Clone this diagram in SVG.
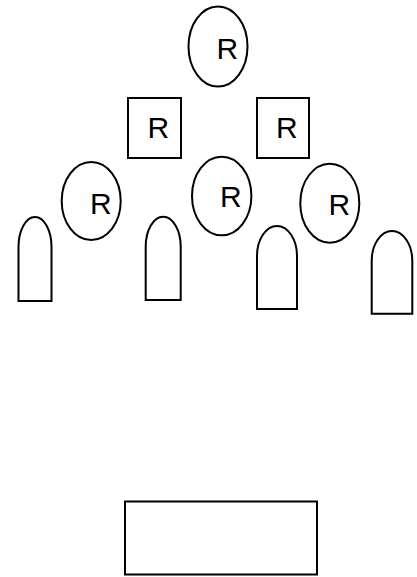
<svg xmlns="http://www.w3.org/2000/svg" width="417" height="577" viewBox="0 0 417 577">
<style>
.s{fill:none;stroke:#000;stroke-width:2}
.t{font-family:"Liberation Sans",Arial,sans-serif;font-size:30px;fill:#000}
</style>
<rect width="417" height="577" fill="#fff"/>
<g id="connectors"></g>
<g id="e1"><ellipse class="s" cx="218" cy="46.5" rx="29.5" ry="40"/><text class="t" x="216.5" y="59.3">R</text></g>
<g id="r1"><rect class="s" x="128" y="98" width="53" height="60"/><text class="t" x="147.5" y="137.7">R</text></g>
<g id="r2"><rect class="s" x="257" y="98" width="52" height="60"/><text class="t" x="276" y="137.7">R</text></g>
<g id="e2"><ellipse class="s" cx="91.2" cy="201" rx="29.5" ry="39"/><text class="t" x="90" y="214">R</text></g>
<g id="e3"><ellipse class="s" cx="221.7" cy="196" rx="29.7" ry="39.3"/><text class="t" x="220" y="207.3">R</text></g>
<g id="e4"><ellipse class="s" cx="329.8" cy="203.2" rx="29.5" ry="39.5"/><text class="t" x="328.5" y="215">R</text></g>
<g id="a1"><path class="s" d="M18.5,301 L18.5,247 A16.5,30 0 0 1 51.5,247 L51.5,301 Z"/></g>
<g id="a2"><path class="s" d="M145.7,300 L145.7,246.7 A17.5,30 0 0 1 180.7,246.7 L180.7,300 Z"/></g>
<g id="a3"><path class="s" d="M257,309 L257,256 A20,30 0 0 1 297,256 L297,309 Z"/></g>
<g id="a4"><path class="s" d="M371.7,313.7 L371.7,261 A20.3,30 0 0 1 412.3,261 L412.3,313.7 Z"/></g>
<g id="box"><rect class="s" x="125" y="501.5" width="192" height="73"/></g>
</svg>
